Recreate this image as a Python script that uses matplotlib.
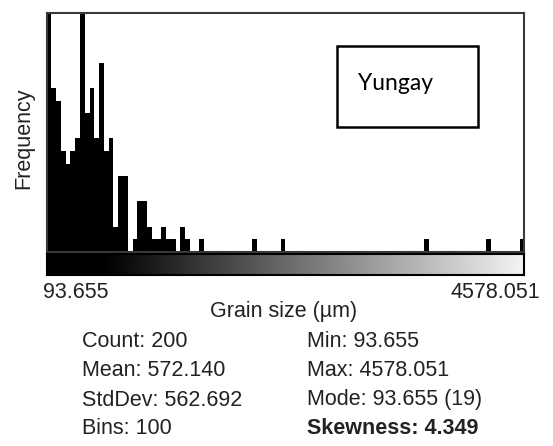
import numpy as np
import matplotlib
matplotlib.use('Agg')
import matplotlib.pyplot as plt
from matplotlib.patches import Rectangle

plt.rcParams['font.family'] = ['Liberation Sans', 'DejaVu Sans']

# histogram data (100 bins between min and max)
vmin_val = 93.655
vmax_val = 4578.051
counts = [19, 13, 12, 8, 7, 8, 9, 19, 11, 13,
          9, 15, 8, 9, 2, 6, 6, 0, 1, 4,
          4, 2, 1, 1, 2, 1, 1, 0, 2, 1,
          0, 0, 1, 0, 0, 0, 0, 0, 0, 0,
          0, 0, 0, 1, 0, 0, 0, 0, 0, 1,
          0, 0, 0, 0, 0, 0, 0, 0, 0, 0,
          0, 0, 0, 0, 0, 0, 0, 0, 0, 0,
          0, 0, 0, 0, 0, 0, 0, 0, 0, 1,
          0, 0, 0, 0, 0, 0, 0, 0, 0, 0,
          0, 0, 1, 0, 0, 0, 0, 0, 0, 1]

stats_left = ['Count: 200', 'Mean: 572.140', 'StdDev: 562.692', 'Bins: 100']
stats_right = ['Min: 93.655', 'Max: 4578.051', 'Mode: 93.655 (19)', 'Skewness: 4.349']
sample_name = 'Yungay'

W, H = 553, 446
fig = plt.figure(figsize=(W / 100, H / 100), dpi=100)


def fx(x):
    return x / W


def fy(y):
    return 1 - y / H


# main histogram
left, right, top, bottom = 46.5, 524.3, 12.7, 251.7
ax = fig.add_axes([fx(left), fy(bottom), fx(right - left), (bottom - top) / H])
edges = np.linspace(vmin_val, vmax_val, len(counts) + 1)
ax.bar(edges[:-1], counts, width=np.diff(edges), align='edge', color='black', linewidth=0)
ax.set_xlim(vmin_val, vmax_val)
ax.set_ylim(0, max(counts))
ax.set_xticks([])
ax.set_yticks([])
for s in ax.spines.values():
    s.set_color('#3a3a3a')
    s.set_linewidth(1.5)

# gradient bar
gtop, gbot = 253.5, 274.5
ax2 = fig.add_axes([fx(left), fy(gbot), fx(right - left), (gbot - gtop) / H])
grad = np.linspace(0, 1, 512)[None, :]
ax2.imshow(grad, cmap='gray', aspect='auto', vmin=0.12, vmax=1.04,
           extent=[vmin_val, vmax_val, 0, 1])
ax2.set_xticks([])
ax2.set_yticks([])
for s in ax2.spines.values():
    s.set_color('black')
    s.set_linewidth(1.5)

fs = 15.5
fig.text(fx(43.5), fy(298), f'{vmin_val:.3f}', fontsize=fs, ha='left', va='baseline', color='#222222')
fig.text(fx(540), fy(298), f'{vmax_val:.3f}', fontsize=fs, ha='right', va='baseline', color='#222222')
fig.text(fx(284), fy(317), 'Grain size (µm)', fontsize=fs, ha='center', va='baseline', color='#222222')
fig.text(fx(24), fy(138), 'Frequency', fontsize=fs, rotation=90, ha='center', va='center', color='#222222')

# stats block
base_y = [347, 376.5, 405.5, 434]
for txt, y in zip(stats_left, base_y):
    fig.text(fx(81.7), fy(y), txt, fontsize=fs, ha='left', va='baseline', color='#222222')
for i, (txt, y) in enumerate(zip(stats_right, base_y)):
    fig.text(fx(306.7), fy(y), txt, fontsize=fs, ha='left', va='baseline', color='#222222',
             fontweight='bold' if i == 3 else 'normal')

# label box
fig.add_artist(Rectangle((fx(337.3), fy(127.3)), fx(478.3 - 337.3), (127.3 - 46) / H,
                         transform=fig.transFigure, fill=False, edgecolor='black', linewidth=1.8))
fig.text(fx(358), fy(89.5), sample_name, fontsize=16.5, family=['Lato', 'DejaVu Sans'],
         ha='left', va='baseline', color='black')

fig.savefig('out.png', dpi=100)
